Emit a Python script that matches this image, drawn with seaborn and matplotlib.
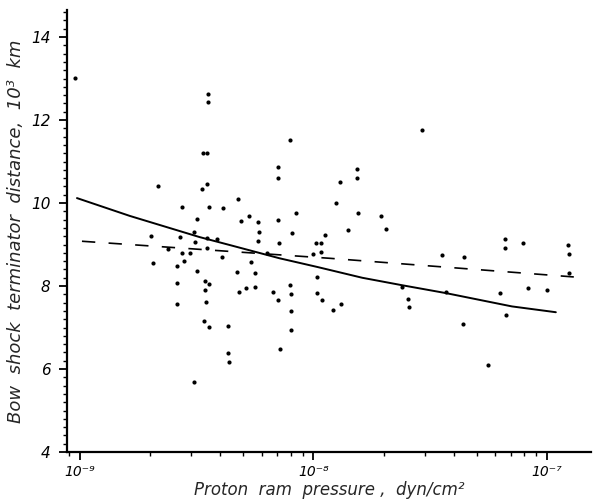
import seaborn as sns
import matplotlib.pyplot as plt
import matplotlib.ticker as mticker
import pandas as pd
import numpy as np


# proton ram pressure, in units of 1e-9 dyn/cm^2
pressure = [0.952, 2.154, 3.524, 3.524, 3.355, 3.489, 3.489, 3.321, 2.729, 3.558,
            4.085, 4.733, 3.162, 4.876, 5.275, 5.765, 5.821, 5.765, 7.019, 7.087,
            7.019, 7.976, 8.46, 8.134, 2.011, 2.676, 3.070, 3.851, 3.489, 3.101,
            2.377, 2.729, 2.952, 3.489, 4.045, 2.051, 2.597, 2.783, 3.162, 2.597,
            3.421, 3.558, 3.421, 2.597, 3.455, 3.388, 3.558, 4.291, 4.291, 4.334,
            3.070, 7.228, 5.380, 4.687, 5.597, 5.121, 5.597, 4.780, 7.976, 6.747,
            8.054, 7.019, 8.054, 8.054, 10.40, 10.40, 10.93, 10.82, 10.0, 7.156,
            10.30, 10.82, 11.25, 6.297, 15.42, 15.42, 13.04, 12.54, 15.57, 19.53,
            14.11, 20.51, 29.23, 35.58, 24.01, 25.47, 25.72, 37.01, 12.18, 13.17,
            62.97, 66.80, 43.75, 55.97, 100.0, 66.15, 66.15, 78.98, 122.9, 124.2,
            124.2, 44.19, 82.96]

# bow shock terminator distance, 10^3 km
distance = [13.01, 10.41, 12.63, 12.43, 11.20, 11.20, 10.46, 10.34, 9.90, 9.90,
            9.88, 10.10, 9.61, 9.57, 9.69, 9.54, 9.30, 9.08, 10.87, 10.60,
            9.59, 11.52, 9.76, 9.28, 9.20, 9.18, 9.30, 9.13, 9.16, 9.06,
            8.89, 8.80, 8.80, 8.92, 8.70, 8.55, 8.48, 8.60, 8.36, 8.07,
            8.12, 8.05, 7.90, 7.57, 7.61, 7.16, 7.01, 7.04, 6.39, 6.17,
            5.69, 6.48, 8.58, 8.34, 8.31, 7.95, 7.98, 7.86, 8.02, 7.86,
            7.81, 7.66, 7.40, 6.94, 8.22, 7.83, 7.66, 8.82, 8.77, 9.04,
            9.04, 9.04, 9.23, 8.80, 10.82, 10.60, 10.51, 10.0, 9.76, 9.69,
            9.35, 9.37, 11.76, 8.75, 7.98, 7.69, 7.49, 7.86, 7.42, 7.57,
            7.83, 7.30, 7.08, 6.10, 7.90, 9.13, 8.92, 9.04, 8.99, 8.77,
            8.31, 8.70, 7.95]

# solid fit curve
solid_p = [0.971, 1.636, 3.257, 4.375, 7.156, 10.40, 16.20, 24.01, 37.01, 70.87, 109.3]
solid_d = [10.12, 9.69, 9.18, 8.99, 8.67, 8.46, 8.20, 8.02, 7.83, 7.51, 7.37]

# dashed fit line
dashed_p = [1.02, 11.71, 130.5]
dashed_d = [9.08, 8.67, 8.22]

pts = pd.DataFrame({'p': np.array(pressure) * 1e-9, 'd': distance})
solid = pd.DataFrame({'p': np.array(solid_p) * 1e-9, 'd': solid_d})
dashed = pd.DataFrame({'p': np.array(dashed_p) * 1e-9, 'd': dashed_d})

sns.set_style("ticks")
plt.rcParams['font.family'] = ['DejaVu Sans']

fig = plt.figure(figsize=(5.95, 5.04), dpi=100)
ax = fig.add_axes([0.1126, 0.103, 0.88, 0.877])

sns.scatterplot(data=pts, x='p', y='d', color='black', s=9, linewidth=0, ax=ax)
sns.lineplot(data=solid, x='p', y='d', color='black', lw=1.4, sort=False,
             estimator=None, ax=ax)
sns.lineplot(data=dashed, x='p', y='d', color='black', lw=1.2, sort=False,
             estimator=None, ax=ax, linestyle=(0, (8, 8)))

ax.set_xscale('log')
ax.set_xlim(8.8e-10, 1.54e-7)
ax.set_ylim(4, 14.65)

ax.set_xticks([1e-9, 1e-8, 1e-7])
ax.set_xticklabels(['10⁻⁹', '10⁻⁸', '10⁻⁷'], fontstyle='italic', fontsize=10)
ax.xaxis.set_minor_locator(mticker.LogLocator(base=10, subs=np.arange(2, 10)))
ax.xaxis.set_minor_formatter(mticker.NullFormatter())

ax.set_yticks([4, 6, 8, 10, 12, 14])
ax.set_yticklabels(['4', '6', '8', '10', '12', '14'], fontstyle='italic', fontsize=11)
ax.yaxis.set_minor_locator(mticker.MultipleLocator(0.2))

ax.tick_params(axis='both', which='major', direction='out', length=6, width=1.3,
               color='black', labelcolor='black')
ax.tick_params(axis='y', which='major', pad=6)
ax.tick_params(axis='x', which='major', pad=3)
ax.tick_params(axis='both', which='minor', direction='out', length=3, width=1.0,
               color='black')

sns.despine(ax=ax)
for s in ['left', 'bottom']:
    ax.spines[s].set_linewidth(1.6)
    ax.spines[s].set_color('black')

ax.set_xlabel('Proton  ram  pressure ,  dyn/cm²', fontstyle='italic', fontsize=12,
              labelpad=2)
ax.set_ylabel('Bow  shock  terminator  distance,  10³  km', fontstyle='italic',
              fontsize=13, labelpad=4)

plt.savefig('out.png', dpi=100)
